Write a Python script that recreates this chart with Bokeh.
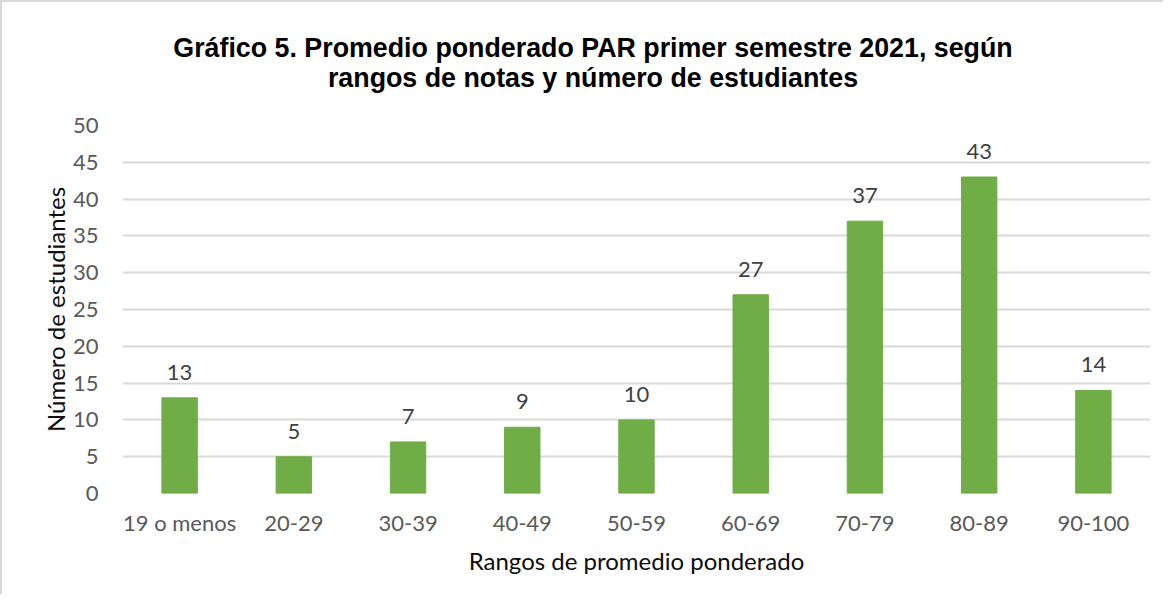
from bokeh.plotting import figure
from bokeh.models import ColumnDataSource, FixedTicker, LabelSet, Div
from bokeh.layouts import column
from bokeh.core.properties import value
from bokeh.embed import file_html
from bokeh.resources import INLINE

# ---- data ----
categories = ["19 o menos", "20-29", "30-39", "40-49", "50-59", "60-69", "70-79", "80-89", "90-100"]
students = [13, 5, 7, 9, 10, 27, 37, 43, 14]
y_ticks = [0, 5, 10, 15, 20, 25, 30, 35, 40, 45, 50]
title_lines = ["Gráfico 5. Promedio ponderado PAR primer semestre 2021, según",
               "rangos de notas y número de estudiantes"]
x_title = "Rangos de promedio ponderado"
y_title = "Número de estudiantes"

BAR = "#70AD47"
GRID = "#d9d9d9"
TICK = "#595959"
FONT = "Lato"

src = ColumnDataSource(dict(cat=categories, val=students, lab=[str(v) for v in students]))

p = figure(x_range=categories, y_range=(0, 50), output_backend="svg", toolbar_location=None,
           frame_width=1028, frame_height=368,
           min_border_left=120, min_border_right=13, min_border_top=23, min_border_bottom=101,
           background_fill_color="white", border_fill_color="white")
p.outline_line_color = None

p.vbar(x="cat", top="val", width=0.31, color=BAR, source=src)

labels = LabelSet(x="cat", y="val", text="lab", source=src, text_align="center",
                  text_baseline="bottom", y_offset=18, text_font=value(FONT),
                  text_font_size="22px", text_color="#404040")
p.add_layout(labels)

# axes
p.yaxis.ticker = FixedTicker(ticks=y_ticks)
for ax in (p.xaxis[0], p.yaxis[0]):
    ax.axis_line_color = None
    ax.major_tick_line_color = None
    ax.minor_tick_line_color = None
    ax.major_label_text_font = FONT
    ax.major_label_text_font_size = "22px"
    ax.major_label_text_color = TICK
    ax.axis_label_text_font = FONT
    ax.axis_label_text_font_size = "24px"
    ax.axis_label_text_font_style = "normal"
    ax.axis_label_text_color = "#0d0d0d"
p.yaxis.axis_label = y_title
p.xaxis.axis_label = x_title
p.yaxis.major_label_standoff = 18
p.yaxis.axis_label_standoff = 0
p.xaxis.major_label_standoff = 9
p.xaxis.axis_label_standoff = 7

p.xgrid.grid_line_color = None
p.ygrid.grid_line_color = GRID
p.ygrid.grid_line_width = 2

# title block (two centered lines)
title_html = (
    '<div style="box-sizing:border-box; width:1161px; margin:0; padding:31px 0 0 21px; '
    'text-align:center; font-family:\'Liberation Sans\', Arial, sans-serif; font-weight:bold; '
    'font-size:26.8px; line-height:30px; color:#000000;">'
    + title_lines[0] + "<br>" + title_lines[1] + "</div>"
)
title_div = Div(text=title_html, width=1161, height=100, margin=0)

layout = column(title_div, p, spacing=0)
layout.styles = {"border-left": "2px solid #d9d9d9", "border-top": "2px solid #d9d9d9",
                 "background-color": "white"}

open("out.html", "w").write(file_html(layout, INLINE))
